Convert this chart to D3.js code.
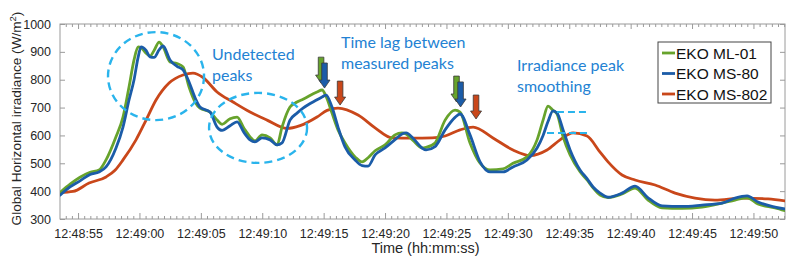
<!DOCTYPE html>
<html><head><meta charset="utf-8">
<script src="https://cdn.jsdelivr.net/npm/d3@7/dist/d3.min.js"></script>
<style>body{margin:0;background:#fff} svg{display:block}</style>
</head><body><svg id="c" width="786" height="262"></svg>
<script>
// ---------- data ----------
const seriesNames  = ["EKO ML-01", "EKO MS-80", "EKO MS-802"];
const seriesColors = ["#67a32c", "#1b5ca8", "#c9471a"];
// seconds after 12:48:55
const fastTimes = [-1.47,-0.65,0.16,0.98,1.71,2.28,3.09,3.66,4.15,4.56,4.89,5.13,5.54,5.86,6.19,6.60,6.92,7.49,8.06,8.55,9.04,9.53,9.93,10.75,11.32,11.73,12.38,12.95,13.52,14.01,14.41,14.98,15.64,16.21,16.61,17.26,17.83,18.32,19.46,19.87,20.20,20.68,21.17,21.74,22.56,23.13,23.62,24.19,25.00,25.81,26.38,26.71,27.28,28.01,28.34,29.07,29.89,30.70,31.11,31.92,32.74,33.55,34.61,35.42,36.56,37.38,37.87,38.27,38.68,39.01,39.50,40.07,40.88,41.45,41.94,42.51,43.16,44.30,45.36,46.42,47.56,49.19,50.81,52.44,53.50,54.48,55.37,56.76,57.57];
const ml01 = [395,425,450,468,476,512,595,666,774,871,918,915,895,885,905,935,918,864,858,846,774,720,698,684,655,640,660,666,625,595,580,602,591,566,630,702,720,730,756,763,740,680,620,573,523,505,520,545,566,602,609,605,582,555,557,573,655,691,684,573,500,476,480,500,523,584,655,705,690,677,595,530,470,440,412,386,377,390,411,368,340,338,343,357,368,376,354,340,330];
const ms80 = [385,415,437,460,469,487,555,630,727,800,880,918,905,882,880,907,921,871,848,835,792,735,702,684,630,618,635,649,610,584,577,591,584,566,573,655,680,698,728,738,745,702,630,559,512,492,490,530,555,585,605,609,590,555,548,560,620,665,677,602,505,469,469,487,512,555,600,650,688,680,620,548,476,445,415,393,378,393,418,376,347,345,350,357,375,383,361,343,336];
const slowTimes = [-1.47,-0.41,0.90,2.28,3.01,3.66,4.72,5.54,6.35,7.41,8.55,9.36,10.18,11.32,12.62,14.01,15.39,17.02,18.08,19.46,20.28,21.17,22.80,24.19,25.57,27.20,28.83,29.89,31.11,32.17,33.79,35.42,36.81,38.19,39.25,40.31,41.45,42.51,43.16,44.30,45.36,46.99,48.62,50.24,51.87,54.07,56.19,57.57];
const ms802 = [395,399,429,451,475,512,584,655,727,788,817,824,808,756,720,684,655,625,635,666,690,698,673,627,591,590,591,598,620,630,591,548,528,548,584,609,598,540,505,458,440,422,393,375,368,375,372,365];
const xTickSeconds = [0,5,10,15,20,25,30,35,40,45,50,55];
const yTicks = [300,400,500,600,700,800,900,1000];

// annotations (data coordinates)
const ellipses = [{t:6.35, v:813, rx:48, ry:44}, {t:14.66, v:627, rx:49, ry:35}];
const arrows = [
  {t:19.79, top:881, tip:788, c:0}, {t:20.07, top:860, tip:770, c:1}, {t:21.34, top:795, tip:709, c:2},
  {t:30.82, top:813, tip:720, c:0}, {t:31.15, top:792, tip:702, c:1}, {t:32.41, top:745, tip:659, c:2}
];
const peakLines = [{t0:39.0, t1:41.45, v:684}, {t0:38.19, t1:41.45, v:609}];
const notes = [
  {lines:["Undetected","peaks"], x:212, y:60},
  {lines:["Time lag between","measured peaks"], x:341, y:48},
  {lines:["Irradiance peak","smoothing"], x:517, y:71}
];

// ---------- layout ----------
const svg = d3.select("#c");
const L = 60, R = 785, T = 24, B = 219;
const base = new Date(2000,0,1,12,48,55);
const toDate = s => new Date(base.getTime() + s*1000);
const x = d3.scaleTime().domain([toDate(-1.47), toDate(57.57)]).range([L, R]);
const y = d3.scaleLinear().domain([300, 1000]).range([B, T]);

const axisCol = "#9a9a9a", textCol = "#262626";
const fmt = d3.timeFormat("%H:%M:%S");
const minorSec = d3.range(-1, 57.6, 0.5).filter(s => Math.abs(s % 5) > 0.01);

function styleAxis(g){ g.selectAll(".domain").remove(); g.selectAll("line").attr("stroke", axisCol); g.selectAll("text").attr("fill", textCol).style("font-family","'Liberation Sans', Arial, sans-serif").style("font-size","12.5px"); }

// minor x ticks bottom & top
svg.append("g").attr("transform",`translate(0,${B})`).call(d3.axisBottom(x).tickValues(minorSec.map(toDate)).tickSize(-3).tickFormat("")).call(styleAxis);
svg.append("g").attr("transform",`translate(0,${T})`).call(d3.axisTop(x).tickValues(minorSec.map(toDate)).tickSize(-3).tickFormat("")).call(styleAxis);
// major x ticks
svg.append("g").attr("transform",`translate(0,${B})`).call(d3.axisBottom(x).tickValues(xTickSeconds.map(toDate)).tickSizeInner(-6).tickSizeOuter(0).tickPadding(10).tickFormat(fmt)).call(styleAxis);
svg.append("g").attr("transform",`translate(0,${T})`).call(d3.axisTop(x).tickValues(xTickSeconds.map(toDate)).tickSizeInner(-5).tickSizeOuter(0).tickFormat("")).call(styleAxis);
// y ticks
svg.append("g").attr("transform",`translate(${L},0)`).call(d3.axisLeft(y).tickValues(yTicks).tickFormat(d3.format("d")).tickSizeInner(-5).tickSizeOuter(0).tickPadding(9)).call(styleAxis);
svg.append("g").attr("transform",`translate(${R},0)`).call(d3.axisRight(y).tickValues(yTicks).tickSizeInner(-5).tickSizeOuter(0).tickFormat("")).call(styleAxis);

// frame
svg.append("rect").attr("x",L).attr("y",T).attr("width",R-L).attr("height",B-T).attr("fill","none").attr("stroke",axisCol).attr("stroke-width",1);

// clip
svg.append("clipPath").attr("id","clip").append("rect").attr("x",L).attr("y",T).attr("width",R-L).attr("height",B-T);

const line = d3.line().x(d => x(toDate(d[0]))).y(d => y(d[1])).curve(d3.curveMonotoneX);
const series = [d3.zip(fastTimes, ml01), d3.zip(fastTimes, ms80), d3.zip(slowTimes, ms802)];
const plot = svg.append("g").attr("clip-path","url(#clip)");
[2,0,1].forEach(i => {
  plot.append("path").datum(series[i]).attr("d", line).attr("fill","none")
    .attr("stroke", seriesColors[i]).attr("stroke-width", 2.8).attr("stroke-linejoin","round").attr("stroke-linecap","round");
});

// ellipses
const annoBlue = "#2ab4ec";
svg.selectAll(".ell").data(ellipses).enter().append("ellipse")
  .attr("cx", d => x(toDate(d.t))).attr("cy", d => y(d.v)).attr("rx", d => d.rx).attr("ry", d => d.ry)
  .attr("fill","none").attr("stroke", annoBlue).attr("stroke-width", 2.4).attr("stroke-dasharray","8,5");

// peak lines
svg.selectAll(".pl").data(peakLines).enter().append("line")
  .attr("x1", d => x(toDate(d.t0))).attr("x2", d => x(toDate(d.t1))).attr("y1", d => y(d.v)).attr("y2", d => y(d.v))
  .attr("stroke", annoBlue).attr("stroke-width", 2).attr("stroke-dasharray","7,4");

// arrows
svg.selectAll(".arr").data(arrows).enter().append("path")
  .attr("d", d => {
    const cx = x(toDate(d.t)), t0 = y(d.top), tp = y(d.tip), sw = 2.8, hw = 5.5, hh = 8;
    return `M${cx-sw},${t0}L${cx+sw},${t0}L${cx+sw},${tp-hh}L${cx+hw},${tp-hh}L${cx},${tp}L${cx-hw},${tp-hh}L${cx-sw},${tp-hh}Z`;
  })
  .attr("fill", d => seriesColors[d.c]).attr("stroke","#3a3a3a").attr("stroke-width",0.8).attr("stroke-linejoin","miter");

// notes
const noteCol = "#2382d3";
notes.forEach(n => {
  const t = svg.append("text").attr("x", n.x).attr("y", n.y).attr("fill", noteCol)
    .style("font-family","Lato, 'Open Sans', sans-serif").style("font-size","16px");
  n.lines.forEach((s,i) => t.append("tspan").attr("x", n.x).attr("dy", i ? 21 : 0).text(s));
});

// legend
const lg = svg.append("g");
lg.append("rect").attr("x",658).attr("y",42).attr("width",113).attr("height",61).attr("fill","#fff").attr("stroke","#444").attr("stroke-width",1);
seriesNames.forEach((nm,i) => {
  const yy = 53 + i*20.5;
  lg.append("line").attr("x1",662).attr("x2",675).attr("y1",yy).attr("y2",yy).attr("stroke",seriesColors[i]).attr("stroke-width",2.8);
  lg.append("text").attr("x",676).attr("y",yy+5.5).text(nm).attr("fill","#111")
    .style("font-family","'Liberation Sans', Arial, sans-serif").style("font-size","15.5px");
});

// axis titles
svg.append("text").attr("x", (L+R)/2 + 3).attr("y", 253).attr("text-anchor","middle").attr("fill",textCol)
  .style("font-family","'Liberation Sans', Arial, sans-serif").style("font-size","14.5px").text("Time (hh:mm:ss)");
const yt = svg.append("text").attr("transform",`translate(21,${(T+B)/2 - 3}) rotate(-90)`).attr("text-anchor","middle").attr("fill",textCol)
  .style("font-family","'Liberation Sans', Arial, sans-serif").style("font-size","13.6px");
yt.append("tspan").text("Global Horizontal irradiance (W/m");
yt.append("tspan").attr("dy",-5).style("font-size","9.5px").text("2");
yt.append("tspan").attr("dy",5).text(")");
</script></body></html>
